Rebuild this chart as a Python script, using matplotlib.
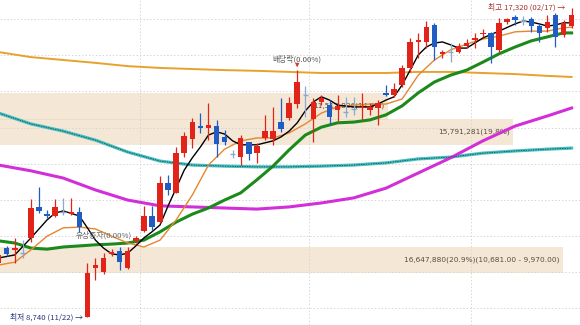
import matplotlib
matplotlib.use('Agg')
import matplotlib.pyplot as plt
import numpy as np

plt.rcParams['font.family'] = ['Noto Sans CJK KR', 'DejaVu Sans']

# daily candles (open, high, low, close), oldest first
opens = [10250, 10660, 10610, 10530, 10940, 11800, 11600, 11550, 11670, 11600,
         11660, 8740, 10110, 10000, 10500, 10580, 10110, 10860, 11130, 11550,
         11380, 12460, 12190, 13290, 13680, 14040, 14000, 14040, 13740, 13270,
         13180, 13600, 13290, 13710, 13680, 14150, 14260, 14650, 14900, 14240,
         14710, 14620, 14480, 14430, 14510, 14540, 14480, 14540, 14960, 14900,
         15180, 15650, 16370, 16370, 16840, 16040, 16090, 16090, 16260, 16420,
         16590, 16620, 16150, 16920, 17060, 16950, 17000, 16810, 16760, 17120,
         16560, 16810]
highs = [10550, 10720, 10940, 10880, 12020, 12350, 11710, 12020, 12050, 12050,
         11800, 10250, 10390, 10520, 10630, 10690, 10690, 10990, 11830, 11830,
         12660, 12680, 13460, 13880, 14260, 14400, 14680, 14210, 13930, 13380,
         13790, 13610, 13570, 14350, 14570, 14820, 14850, 15590, 15150, 14820,
         14900, 14760, 14900, 14850, 14850, 14960, 14680, 14760, 15180, 15230,
         15730, 16480, 16620, 16950, 16890, 16150, 16340, 16340, 16450, 16620,
         16730, 16640, 17030, 17030, 17120, 17090, 17060, 16890, 17120, 17170,
         16980, 17320]
lows = [10160, 10440, 10250, 10390, 10830, 11630, 11490, 11520, 11580, 11580,
        11110, 8740, 9780, 9940, 10440, 10050, 10080, 10800, 11110, 11160,
        11350, 12130, 12190, 13180, 13430, 13850, 13650, 13180, 13520, 13160,
        12960, 13100, 13020, 13650, 13520, 13880, 14210, 14540, 14290, 13600,
        14620, 14070, 14180, 14290, 14350, 14210, 14350, 14070, 14880, 14850,
        15120, 15540, 15930, 16200, 15870, 15930, 15810, 16060, 16200, 16200,
        16510, 15790, 16090, 16870, 16840, 16840, 16650, 16370, 16650, 16230,
        16510, 16760]
closes = [10470, 10500, 10660, 10530, 11770, 11690, 11550, 11800, 11670, 11660,
          11240, 9970, 10190, 10390, 10550, 10270, 10580, 10940, 11550, 11240,
          12460, 12270, 13290, 13760, 14150, 13990, 14060, 13540, 13600, 13270,
          13710, 13270, 13490, 13900, 13900, 13960, 14680, 15260, 14900, 14710,
          14820, 14290, 14600, 14430, 14510, 14570, 14570, 14680, 14900, 15070,
          15650, 16370, 16420, 16780, 16230, 16090, 16090, 16260, 16340, 16480,
          16620, 16230, 16890, 17000, 16980, 16950, 16810, 16620, 16920, 16510,
          16890, 17120]

# moving averages
ma_long_idx = [0, 4, 8, 12, 16, 20, 24, 28, 32, 36, 40, 44, 48, 52, 56, 60, 64, 68, 71]
ma_gold = [16090, 15950, 15870, 15790, 15700, 15650, 15620, 15590, 15570, 15540,
           15510, 15510, 15510, 15540, 15540, 15510, 15480, 15430, 15400]
ma_teal = [14400, 14100, 13900, 13650, 13320, 13070, 12960, 12930, 12910, 12910,
           12930, 12960, 13020, 13130, 13180, 13290, 13350, 13400, 13430]
ma_magenta = [12960, 12800, 12600, 12270, 11990, 11830, 11800, 11770, 11740, 11800,
              11910, 12050, 12320, 12740, 13160, 13630, 14040, 14320, 14540]

ma_mid_idx = list(range(0, 71, 2)) + [71]
ma_green = [10860, 10800, 10660, 10630, 10690, 10720, 10750, 10770, 10800, 10880,
            11110, 11380, 11600, 11770, 11990, 12190, 12550, 12930, 13380, 13790,
            14010, 14130, 14150, 14210, 14350, 14600, 14960, 15260, 15450, 15590,
            15810, 16040, 16230, 16400, 16510, 16620, 16620]
ma_orange = [10190, 10270, 10610, 10990, 11220, 11240, 11190, 10990, 10800, 10690,
             10880, 11440, 12130, 12960, 13400, 13630, 13710, 13710, 13850, 14100,
             14400, 14570, 14620, 14650, 14650, 14790, 15450, 15870, 16150, 16310,
             16450, 16530, 16650, 16670, 16670, 16760, 16780]

ma_black_idx = [0, 2, 4, 6, 7, 8, 10, 11, 12, 13, 14, 15, 16, 17, 18, 19, 20, 21, 22, 23,
                24, 25, 26, 27, 28, 29, 30, 32, 34, 35, 36, 37, 38, 39, 40, 41, 42, 44,
                46, 47, 48, 49, 50, 51, 52, 53, 54, 55, 56, 57, 58, 59, 60, 62, 64, 65,
                66, 67, 68, 69, 70, 71]
ma_black = [10385, 10470, 10940, 11440, 11630, 11690, 11550, 11220, 10880, 10660,
            10500, 10470, 10520, 10720, 10940, 11110, 11300, 11830, 12320, 12820,
            13160, 13460, 13790, 13880, 13820, 13630, 13520, 13520, 13630, 13740,
            13900, 14130, 14460, 14710, 14850, 14760, 14620, 14570, 14570, 14650,
            14760, 14850, 15180, 15590, 16010, 16230, 16340, 16370, 16290, 16200,
            16200, 16340, 16480, 16670, 16870, 16950, 16920, 16870, 16810, 16840,
            16900, 16900]

# volume profile bands: price range, end position (candle units), label
band_lo = [9970, 13525, 14236]
band_hi = [10681, 14236, 14947]
band_end = [69.9, 63.7, 48.2]
band_labels = ['16,647,880(20.9%)(10,681.00 - 9,970.00)', '15,791,281(19.8%)', '11,512,836(14.4%)']

grid_prices = [9000, 10000, 11000, 12000, 13000, 14000, 15000, 16000, 17000]
grid_dates = [17.5, 38.5, 58.5]

RED = '#e2231a'
BLUE = '#1f5cc4'
FLAT = '#8aa8d0'

fig = plt.figure(figsize=(5.8, 3.25), dpi=100)
ax = fig.add_axes([0, 0, 1, 1])
ax.set_xlim(0.17, 72.04)
ax.set_ylim(8529, 17532)
ax.axis('off')

for p in grid_prices:
    ax.axhline(p, color='#d6d6d6', lw=0.7, ls=(0, (1.5, 2)), zorder=0.5)
for d in grid_dates:
    ax.axvline(d, color='#d6d6d6', lw=0.7, ls=(0, (1.5, 2)), zorder=0.5)

for lo, hi, end, lab in zip(band_lo, band_hi, band_end, band_labels):
    ax.fill_between([0, end], lo, hi, color='#f5e7d5', lw=0, zorder=0.3)
    ax.text(end - 0.4, (lo + hi) / 2, lab, ha='right', va='center', fontsize=5.3,
            color='#5c4c3c', family='DejaVu Sans', zorder=0.6)
# faint divider between the two upper bands
ax.plot([0, band_end[2]], [band_hi[1], band_hi[1]], color='#efdcc6', lw=0.6, zorder=0.4)

x = np.arange(len(opens))

# moving averages
ax.plot(ma_long_idx, ma_gold, color='#e8a12e', lw=1.4, zorder=2)
ax.plot(ma_long_idx, ma_teal, color='#48c0c0', lw=2.3, zorder=2)
ax.plot(ma_long_idx, ma_teal, color='#1d5a66', lw=0.7, ls=(0, (1.5, 1)), zorder=2.1)
ax.plot(ma_long_idx, ma_magenta, color='#d22fd8', lw=2.2, zorder=2)
ax.plot(ma_mid_idx, ma_green, color='#1b8a1b', lw=2.2, zorder=2)
ax.plot(ma_mid_idx, ma_orange, color='#e4872f', lw=1.0, zorder=2.2)
ax.plot(ma_black_idx, ma_black, color='black', lw=1.0, zorder=2.3)

# candles
for i in x:
    o, h, l, c = opens[i], highs[i], lows[i], closes[i]
    col = RED if c > o else (BLUE if c < o else FLAT)
    ax.vlines(i, l, h, color=col, lw=0.9, zorder=3)
    if c == o:
        ax.hlines(o, i - 0.34, i + 0.34, color=col, lw=1.0, zorder=3)
    else:
        ax.bar(i, abs(c - o), bottom=min(o, c), width=0.68, color=col, lw=0, zorder=3.1)

# annotations
ax.text(10.45, lows[11], '최저 8,740 (11/22) →', ha='right', va='center', fontsize=5.6,
        color='#2a2f7a', zorder=4)
ax.text(70.2, highs[71], '최고 17,320 (02/17) →', ha='right', va='center', fontsize=5.6,
        color='#a8302c', zorder=4)
ax.text(37, 15900, '배당락(0.00%)', ha='center', va='center', fontsize=5.6,
        color='#555555', zorder=4)
ax.annotate('', xy=(37, highs[37]), xytext=(37, 15830),
            arrowprops=dict(arrowstyle='-|>', color='#d03a3a', lw=0.8, mutation_scale=5),
            zorder=4)
ax.text(13, 11020, '유상증자(0.00%)', ha='center', va='center', fontsize=5.6,
        color='#666666', zorder=4)

fig.savefig('out.png', dpi=100)
